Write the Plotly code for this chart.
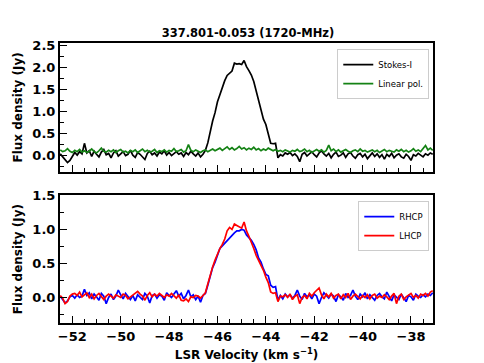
import numpy as np
import plotly.graph_objects as go
from plotly.subplots import make_subplots

# velocity channels (km/s)
v_start = -52.5
dv = 0.1
n_chan = 155
velocity = np.round(v_start + dv * np.arange(n_chan), 2)

stokes_i = [
    0.03, -0.04, -0.10, -0.17, -0.12, -0.02, 0.06, 0.00, 0.08, 0.03,
    0.27, 0.05, 0.10, -0.03, 0.09, 0.02, -0.04, 0.07, 0.13, 0.01,
    0.04, -0.06, 0.05, 0.10, -0.02, 0.03, 0.08, -0.01, 0.02, 0.11,
    0.00, -0.05, 0.06, 0.02, -0.03, -0.10, 0.04, 0.09, 0.01, 0.05,
    -0.02, 0.07, 0.03, 0.10, 0.00, 0.06, -0.01, 0.04, 0.08, 0.02,
    0.05, -0.03, 0.06, 0.01, 0.09, 0.03, -0.02, 0.05, -0.04, 0.02,
    0.11, 0.28, 0.55, 0.78, 0.97, 1.22, 1.38, 1.55, 1.70, 1.82,
    1.88, 1.92, 2.10, 2.08, 2.09, 2.07, 2.16, 2.02, 1.93, 1.83,
    1.68, 1.45, 1.22, 1.05, 0.82, 0.70, 0.45, 0.27, 0.26, 0.27,
    -0.06, 0.01, -0.02, 0.05, 0.02, 0.06, -0.01, 0.03, -0.03, -0.15,
    0.02, 0.06, -0.02, 0.04, 0.08, 0.01, -0.04, 0.05, 0.10, 0.03,
    -0.02, 0.04, -0.06, 0.02, 0.07, -0.03, 0.00, 0.05, -0.05, 0.03,
    0.06, -0.02, -0.07, 0.01, 0.04, -0.04, 0.02, -0.08, 0.00, 0.05,
    -0.03, 0.03, -0.05, 0.01, -0.09, 0.02, -0.03, 0.04, -0.06, 0.00,
    0.03, -0.04, -0.07, 0.02, -0.03, -0.12, 0.01, -0.02, 0.04, 0.00,
    -0.04, 0.03, 0.00, 0.05, 0.02,
]

linear_pol = [
    0.12, 0.08, 0.10, 0.15, 0.09, 0.06, 0.11, 0.08, 0.13, 0.07,
    0.10, 0.06, 0.09, 0.14, 0.08, 0.05, 0.10, 0.16, 0.09, 0.07,
    0.11, 0.08, 0.12, 0.06, 0.10, 0.13, 0.07, 0.09, 0.05, 0.11,
    0.08, 0.12, 0.06, 0.10, 0.14, 0.08, 0.11, 0.07, 0.09, 0.13,
    0.06, 0.10, 0.08, 0.12, 0.07, 0.11, 0.09, 0.15, 0.08, 0.10,
    0.13, 0.07, 0.10, 0.24, 0.11, 0.08, 0.12, 0.09, 0.06, 0.10,
    0.12, 0.08, 0.11, 0.14, 0.10, 0.13, 0.16, 0.11, 0.15, 0.19,
    0.13, 0.17, 0.12, 0.15, 0.20, 0.14, 0.17, 0.12, 0.16, 0.13,
    0.18, 0.12, 0.15, 0.10, 0.14, 0.11, 0.16, 0.12, 0.10, 0.13,
    0.09, 0.11, 0.08, 0.12, 0.10, 0.07, 0.11, 0.09, 0.13, 0.08,
    0.10, 0.14, 0.08, 0.11, 0.06, 0.10, 0.13, 0.09, 0.12, 0.07,
    0.11, 0.23, 0.10, 0.14, 0.08, 0.12, 0.07, 0.10, 0.13, 0.09,
    0.06, 0.10, 0.12, 0.08, 0.14, 0.09, 0.11, 0.07, 0.10, 0.12,
    0.08, 0.11, 0.06, 0.10, 0.13, 0.08, 0.11, 0.09, 0.07, 0.12,
    0.09, 0.13, 0.08, 0.11, 0.07, 0.10, 0.15, 0.09, 0.12, 0.08,
    0.14, 0.22, 0.12, 0.16, 0.11,
]

rhcp = [
    0.02, -0.03, -0.08, -0.05, 0.01, 0.03, -0.01, 0.04, 0.00, 0.02,
    0.12, 0.03, 0.07, -0.02, 0.05, 0.01, -0.04, 0.06, 0.02, -0.09,
    0.00, 0.05, -0.03, 0.02, 0.11, 0.04, -0.02, 0.06, 0.01, -0.03,
    0.03, -0.05, 0.04, 0.00, -0.03, 0.06, 0.02, -0.08, 0.03, 0.05,
    -0.01, 0.04, 0.02, -0.04, 0.07, 0.03, 0.00, 0.05, 0.10, 0.02,
    0.06, -0.02, 0.03, 0.11, 0.01, 0.04, -0.03, 0.02, -0.07, 0.03,
    0.06, 0.18, 0.32, 0.44, 0.52, 0.62, 0.72, 0.76, 0.80, 0.84,
    0.88, 0.92, 0.95, 0.98, 0.98, 1.00, 0.99, 0.92, 0.88, 0.84,
    0.78, 0.70, 0.58, 0.52, 0.42, 0.34, 0.32, 0.18, 0.15, 0.16,
    -0.04, 0.03, -0.02, 0.05, 0.01, 0.04, -0.01, 0.03, 0.11, 0.02,
    -0.03, 0.06, 0.01, 0.04, -0.02, 0.05, 0.02, -0.09, 0.00, 0.07,
    0.03, -0.01, 0.05, 0.02, -0.06, 0.04, 0.01, -0.04, 0.06, 0.00,
    0.03, 0.11, 0.02, -0.03, 0.05, 0.01, 0.07, -0.02, 0.04, 0.00,
    -0.04, 0.03, 0.06, 0.01, -0.02, 0.08, 0.02, -0.05, 0.04, 0.01,
    -0.03, 0.05, 0.00, -0.06, 0.03, 0.01, -0.04, 0.05, 0.02, 0.00,
    0.04, 0.01, 0.05, 0.03, 0.07,
]

lhcp = [
    0.03, -0.01, -0.09, -0.06, 0.02, 0.05, 0.06, 0.03, 0.08, 0.01,
    0.04, 0.07, 0.00, 0.05, -0.02, 0.03, 0.06, 0.01, -0.03, 0.02,
    0.05, 0.02, -0.01, 0.04, 0.02, 0.00, 0.05, 0.03, -0.02, 0.01,
    0.04, 0.06, 0.09, 0.05, 0.02, -0.04, 0.03, 0.07, 0.01, 0.05,
    0.02, 0.06, 0.03, 0.00, 0.04, 0.02, 0.06, 0.03, -0.01, 0.04,
    -0.04, -0.05, -0.02, -0.06, 0.01, 0.00, 0.03, 0.02, -0.01, 0.03,
    0.07, 0.20, 0.34, 0.45, 0.55, 0.65, 0.72, 0.78, 0.86, 0.98,
    1.03, 1.00, 1.08, 1.06, 1.04, 1.02, 1.11, 0.98, 0.90, 0.82,
    0.72, 0.62, 0.55, 0.48, 0.40, 0.30, 0.22, 0.08, 0.06, 0.07,
    -0.06, 0.02, 0.01, 0.04, 0.00, 0.05, -0.03, 0.02, 0.04, -0.09,
    0.00, 0.03, -0.02, 0.06, 0.02, 0.07, 0.10, 0.14, 0.04, -0.02,
    0.05, 0.01, 0.06, -0.01, 0.03, 0.05, -0.02, 0.04, 0.00, 0.06,
    -0.03, 0.02, 0.05, 0.01, -0.02, 0.03, 0.00, 0.04, -0.02, 0.03,
    0.05, -0.01, 0.02, 0.00, 0.04, 0.01, -0.03, 0.02, 0.06, -0.09,
    0.02, 0.05, -0.03, 0.01, 0.04, 0.06, 0.00, 0.03, -0.01, 0.05,
    0.03, 0.06, 0.02, 0.08, 0.10,
]

FONT = "DejaVu Sans"

# page body adds an 8 px margin, so the figure is sized to fit the window
W, H = 476, 355

fig = make_subplots(rows=2, cols=1, shared_xaxes=False, vertical_spacing=0.08)

fig.add_trace(go.Scatter(x=velocity, y=stokes_i, mode="lines", name="Stokes-I",
                         line=dict(color="black", width=1.7), legend="legend"), row=1, col=1)
fig.add_trace(go.Scatter(x=velocity, y=linear_pol, mode="lines", name="Linear pol.",
                         line=dict(color="#148214", width=1.7), legend="legend"), row=1, col=1)
fig.add_trace(go.Scatter(x=velocity, y=rhcp, mode="lines", name="RHCP",
                         line=dict(color="#0000ff", width=1.7), legend="legend2"), row=2, col=1)
fig.add_trace(go.Scatter(x=velocity, y=lhcp, mode="lines", name="LHCP",
                         line=dict(color="#ff0000", width=1.7), legend="legend2"), row=2, col=1)

xcommon = dict(range=[-52.51, -37.09], tickvals=[-52, -50, -48, -46, -44, -42, -40, -38],
               ticks="inside", ticklen=7, tickwidth=1.3, tickcolor="black",
               minor=dict(dtick=0.5, tick0=0, ticks="inside", ticklen=4, tickwidth=1, tickcolor="black"),
               showline=True, linewidth=2, linecolor="black", mirror=True,
               showgrid=False, zeroline=False, automargin=False)
ycommon = dict(ticks="inside", ticklen=7, tickwidth=1.3, tickcolor="black",
               minor=dict(dtick=0.25, tick0=0, ticks="inside", ticklen=4, tickwidth=1, tickcolor="black"),
               showline=True, linewidth=2, linecolor="black", mirror=True,
               showgrid=False, zeroline=False, tickformat=".1f", automargin=False,
               tickfont=dict(family=FONT, size=13, color="black", weight="bold"),
               title=dict(text="Flux density (Jy)", standoff=7,
                          font=dict(family=FONT, size=12, color="black", weight="bold")))

fig.update_xaxes(xcommon)
fig.update_yaxes(ycommon)
fig.update_xaxes(showticklabels=False, row=1, col=1)
fig.update_xaxes(tickfont=dict(family=FONT, size=13, color="black", weight="bold"),
                 title=dict(text="LSR Velocity (km s<sup>−1</sup>)", standoff=8,
                            font=dict(family=FONT, size=12, color="black", weight="bold")),
                 row=2, col=1)
fig.update_yaxes(range=[-0.38, 2.56], tickvals=[0, 0.5, 1.0, 1.5, 2.0, 2.5],
                 domain=[0.54, 1.0], row=1, col=1)
fig.update_yaxes(range=[-0.375, 1.505], tickvals=[0, 0.5, 1.0, 1.5],
                 domain=[0.0, 0.4566], row=2, col=1)

legend_style = dict(bgcolor="white", bordercolor="#cccccc", borderwidth=1,
                    font=dict(family=FONT, size=8.5, color="black"),
                    xanchor="right", yanchor="top", x=0.99, itemwidth=30,
                    tracegroupgap=0)
fig.update_layout(
    width=W, height=H,
    margin=dict(l=52, r=51, t=35, b=40, autoexpand=False),
    paper_bgcolor="white", plot_bgcolor="white",
    title=dict(text="337.801-0.053 (1720-MHz)", x=(248 - 8) / W, xanchor="center",
               y=1 - 25 / H, yanchor="middle",
               font=dict(family=FONT, size=11.5, color="black", weight="bold")),
    legend=dict(legend_style, y=0.978),
    legend2=dict(legend_style, y=0.435),
    showlegend=True,
)

fig.write_html("out.html")
